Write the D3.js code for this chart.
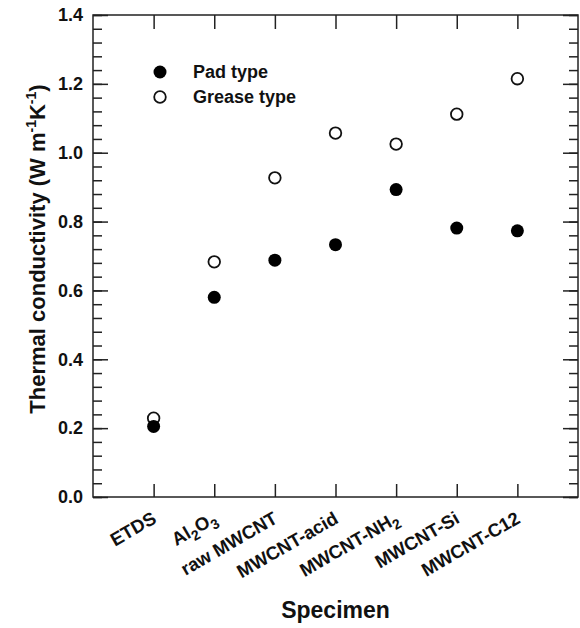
<!DOCTYPE html>
<html lang="en">
<head>
<meta charset="utf-8">
<title>Thermal conductivity by specimen</title>
<script src="https://d3js.org/d3.v7.min.js"></script>
<style>
  body { margin: 0; background: #fff; }
  text { font-family: "Liberation Sans", Arial, sans-serif; font-weight: bold; fill: #111; }
</style>
</head>
<body>
<div id="chart"></div>
<script>
// specimen categories (parts starting with "_" are subscripts)
var categories = ["ETDS", "Al2O3", "raw MWCNT", "MWCNT-acid", "MWCNT-NH2", "MWCNT-Si", "MWCNT-C12"];
var categoryLabels = [
  ["ETDS"],
  ["Al", "_2", "O", "_3"],
  ["raw MWCNT"],
  ["MWCNT-acid"],
  ["MWCNT-NH", "_2"],
  ["MWCNT-Si"],
  ["MWCNT-C12"]
];
var padType = [0.205, 0.580, 0.688, 0.733, 0.893, 0.781, 0.773];
var greaseType = [0.229, 0.683, 0.927, 1.057, 1.025, 1.112, 1.215];
var yMajorTicks = [0.0, 0.2, 0.4, 0.6, 0.8, 1.0, 1.2, 1.4];
var yMinorTicks = d3.range(0, 36).map(function (i) { return i * 0.04; });

var W = 580, H = 628;
var margin = {top: 15, right: 2, bottom: 131, left: 93};

var svg = d3.select("#chart").append("svg")
  .attr("width", W)
  .attr("height", H);

var x = d3.scaleLinear().domain([0, 8]).range([margin.left, W - margin.right]);
var y = d3.scaleLinear().domain([0, 1.4]).range([H - margin.bottom, margin.top]);

var x0 = x.range()[0], x1 = x.range()[1], y0 = y.range()[0], y1 = y.range()[1];

function styleAxis(g) {
  g.select(".domain").remove();
  g.selectAll(".tick line").attr("stroke", "#222").attr("stroke-width", 1.5);
}

// left axis: minor then major
svg.append("g").attr("transform", "translate(" + x0 + ",0)")
  .call(d3.axisLeft(y).tickValues(yMinorTicks).tickSize(-9).tickFormat(""))
  .call(styleAxis);
svg.append("g").attr("transform", "translate(" + x0 + ",0)")
  .call(d3.axisLeft(y).tickValues(yMajorTicks).tickSize(-15).tickPadding(10).tickFormat(d3.format(".1f")))
  .call(styleAxis)
  .call(function (g) {
    g.selectAll(".tick text").attr("font-size", 18).attr("font-family", "Liberation Sans, Arial, sans-serif")
      .attr("font-weight", "bold").attr("fill", "#111");
  });

// right axis
svg.append("g").attr("transform", "translate(" + x1 + ",0)")
  .call(d3.axisRight(y).tickValues(yMinorTicks).tickSize(-9).tickFormat(""))
  .call(styleAxis);
svg.append("g").attr("transform", "translate(" + x1 + ",0)")
  .call(d3.axisRight(y).tickValues(yMajorTicks).tickSize(-15).tickFormat(""))
  .call(styleAxis);

// top and bottom axes
var catPos = categories.map(function (c, i) { return i + 1; });
svg.append("g").attr("transform", "translate(0," + y1 + ")")
  .call(d3.axisTop(x).tickValues(catPos).tickSize(-14).tickFormat(""))
  .call(styleAxis);
svg.append("g").attr("transform", "translate(0," + y0 + ")")
  .call(d3.axisBottom(x).tickValues(catPos).tickSize(-13).tickFormat(""))
  .call(styleAxis);

// frame
svg.append("rect")
  .attr("x", x0).attr("y", y1)
  .attr("width", x1 - x0).attr("height", y0 - y1)
  .attr("fill", "none").attr("stroke", "#222").attr("stroke-width", 1.5);

// rotated category labels
categoryLabels.forEach(function (parts, i) {
  var t = svg.append("text")
    .attr("transform", "translate(" + (x(i + 1) + 4) + "," + (y0 + 25) + ") rotate(-30)")
    .attr("text-anchor", "end")
    .attr("font-size", 18.5);
  var shifted = false;
  parts.forEach(function (p) {
    var sub = p.charAt(0) === "_";
    var s = t.append("tspan").text(sub ? p.slice(1) : p);
    if (sub) { s.attr("font-size", 14).attr("dy", shifted ? 0 : 5); shifted = true; }
    else if (shifted) { s.attr("dy", -5); shifted = false; }
  });
});

// data points
svg.append("g").selectAll("circle")
  .data(greaseType)
  .join("circle")
  .attr("cx", function (d, i) { return x(i + 1); })
  .attr("cy", function (d) { return y(d); })
  .attr("r", 5.8)
  .attr("fill", "#fff").attr("stroke", "#111").attr("stroke-width", 1.8);

svg.append("g").selectAll("circle")
  .data(padType)
  .join("circle")
  .attr("cx", function (d, i) { return x(i + 1); })
  .attr("cy", function (d) { return y(d); })
  .attr("r", 6.5)
  .attr("fill", "#000");

// legend
var legend = [
  {label: "Pad type", filled: true},
  {label: "Grease type", filled: false}
];
legend.forEach(function (l, i) {
  var ly = 72 + i * 25;
  svg.append("circle")
    .attr("cx", 160).attr("cy", ly)
    .attr("r", l.filled ? 6.5 : 5.8)
    .attr("fill", l.filled ? "#000" : "#fff")
    .attr("stroke", l.filled ? "none" : "#111")
    .attr("stroke-width", 1.8);
  svg.append("text")
    .attr("x", 193).attr("y", ly + 6)
    .attr("font-size", 18)
    .text(l.label);
});

// axis titles
svg.append("text")
  .attr("x", (x0 + x1) / 2).attr("y", 618)
  .attr("text-anchor", "middle")
  .attr("font-size", 23)
  .text("Specimen");

var yt = svg.append("text")
  .attr("transform", "translate(45,249) rotate(-90)")
  .attr("text-anchor", "middle")
  .attr("font-size", 22);
yt.append("tspan").text("Thermal conductivity (W m");
yt.append("tspan").attr("font-size", 14).attr("dy", -9).text("-1");
yt.append("tspan").attr("dy", 9).text("K");
yt.append("tspan").attr("font-size", 14).attr("dy", -9).text("-1");
yt.append("tspan").attr("dy", 9).text(")");
</script>
</body>
</html>
